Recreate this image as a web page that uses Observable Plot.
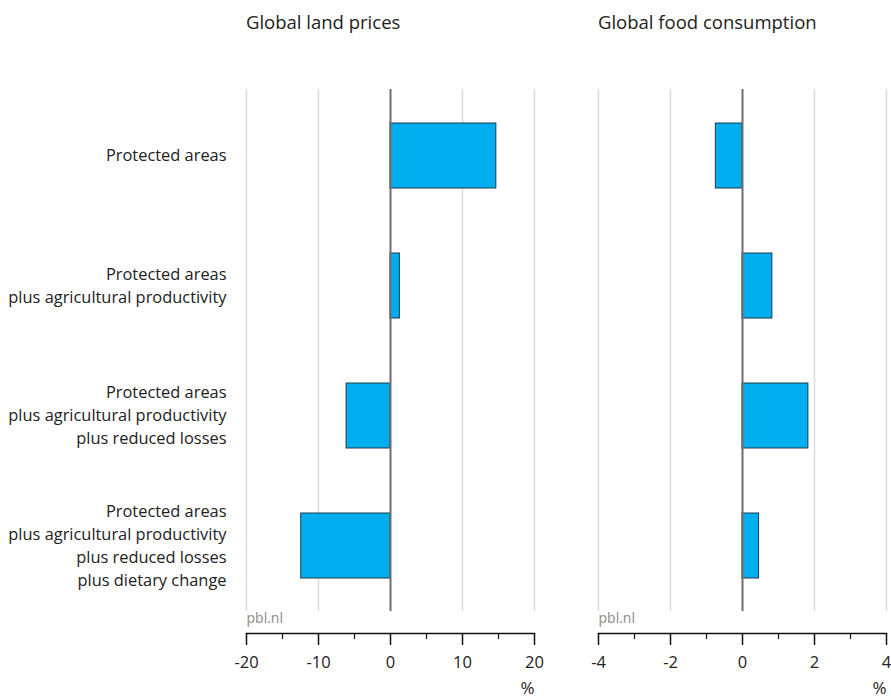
<!DOCTYPE html>
<html><head><meta charset="utf-8">
<script src="https://cdn.jsdelivr.net/npm/d3@7"></script>
<script src="https://cdn.jsdelivr.net/npm/@observablehq/plot@0.6"></script>
<style>
body{margin:0;background:#fff;font-family:"Open Sans",sans-serif;}
#wrap{position:relative;width:891px;height:697px;overflow:hidden;}
.panel{position:absolute;top:0;}
.title{position:absolute;top:10px;font-size:18.5px;line-height:24px;color:#222;white-space:nowrap;}
</style></head><body><div id="wrap"></div>
<script>
const scenarios = [
  "Protected areas",
  "Protected areas\nplus agricultural productivity",
  "Protected areas\nplus agricultural productivity\nplus reduced losses",
  "Protected areas\nplus agricultural productivity\nplus reduced losses\nplus dietary change"
];
const landPrices = [14.7, 1.3, -6.1, -12.4];
const foodConsumption = [-0.74, 0.83, 1.83, 0.46];
const landTicks = [-20, -10, 0, 10, 20];
const landMinorTicks = [-15, -5, 5, 15];
const foodTicks = [-4, -2, 0, 2, 4];
const foodMinorTicks = [-3, -1, 1, 3];
const panelTitles = ["Global land prices", "Global food consumption"];
const unitLabel = "%";
const sourceLabel = "pbl.nl";

const H = 697;
function panel({values, ticks, minor, width, marginLeft, marginRight, showY}) {
  const data = scenarios.map((s, i) => ({scenario: s, value: values[i]}));
  const dom = [ticks[0], ticks[ticks.length - 1]];
  return Plot.plot({
    width, height: H,
    marginTop: 89, marginBottom: 64, marginLeft, marginRight,
    style: {fontFamily: '"Open Sans", sans-serif', fontSize: "15px", color: "#222", background: "transparent"},
    x: {domain: dom, axis: null},
    y: {type: "band", domain: scenarios, range: [89.5, 611], paddingInner: 0.5, paddingOuter: 0.25, axis: null},
    marks: [
      Plot.ruleX(ticks.filter(t => t !== 0), {stroke: "#dcdcdc", strokeWidth: 1.5, insetBottom: 22}),
      Plot.barX(data, {x: "value", y: "scenario", fill: "#00aeef", stroke: "#1e3a48", strokeWidth: 1}),
      Plot.ruleX([0], {stroke: "#6e6e6e", strokeWidth: 2, insetBottom: 22}),
      showY ? Plot.axisY({tickSize: 0, tickPadding: 20, fontSize: 16.4, lineHeight: 1.4, dy: -2, fill: "#222", tickFormat: d => d, label: null}) : null,
      Plot.frame({anchor: "bottom", stroke: "#111", strokeWidth: 1.5}),
      Plot.axisX(ticks, {anchor: "bottom", tickSize: 12, tickPadding: 11, stroke: "#111", strokeWidth: 1.5, fill: "#222", fontSize: 16.5, tickFormat: d => String(d), label: null}),
      Plot.axisX(minor, {anchor: "bottom", tickSize: 6, tickFormat: () => "", stroke: "#111", strokeWidth: 1.2, label: null}),
      Plot.text([sourceLabel], {frameAnchor: "bottom-left", dy: -11, textAnchor: "start", fill: "#8a8a8a", fontSize: 14}),
      Plot.text([unitLabel], {frameAnchor: "bottom-right", dy: 60, textAnchor: "end", fill: "#222", fontSize: 17})
    ]
  });
}

const wrap = document.getElementById("wrap");
const specs = [
  {values: landPrices, ticks: landTicks, minor: landMinorTicks, width: 560, marginLeft: 246, marginRight: 26, showY: true, left: 0},
  {values: foodConsumption, ticks: foodTicks, minor: foodMinorTicks, width: 331, marginLeft: 38, marginRight: 5, showY: false, left: 560}
];
specs.forEach((s, i) => {
  const div = document.createElement("div");
  div.className = "panel";
  div.style.left = s.left + "px";
  div.appendChild(panel(s));
  wrap.appendChild(div);
  const t = document.createElement("div");
  t.className = "title";
  t.style.left = (s.left + s.marginLeft) + "px";
  t.textContent = panelTitles[i];
  wrap.appendChild(t);
});
</script></body></html>
